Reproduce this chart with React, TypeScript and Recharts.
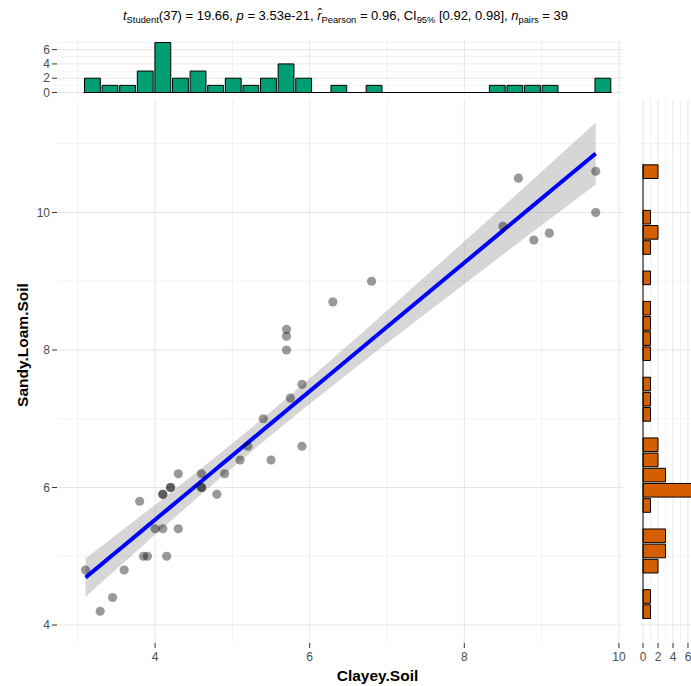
import React from 'react';
import { ComposedChart, Scatter, Line, Area, Bar, XAxis, YAxis, CartesianGrid, ReferenceLine } from 'recharts';

// ---- data ----
const clayeySoil = [3.1, 3.29, 3.45, 3.6, 3.8, 3.85, 3.9, 4.0, 4.1, 4.1, 4.1, 4.15, 4.2, 4.2, 4.3, 4.3, 4.6, 4.6, 4.6, 4.8, 4.9, 5.1, 5.2, 5.4, 5.5, 5.7, 5.7, 5.7, 5.75, 5.9, 5.9, 6.3, 6.8, 8.5, 8.7, 8.9, 9.1, 9.7, 9.7];
const sandyLoamSoil = [4.8, 4.2, 4.4, 4.8, 5.8, 5.0, 5.0, 5.4, 5.9, 5.9, 5.4, 5.0, 6.0, 6.0, 6.2, 5.4, 6.2, 6.0, 6.0, 5.9, 6.2, 6.4, 6.6, 7.0, 6.4, 8.3, 8.2, 8.0, 7.3, 7.5, 6.6, 8.7, 9.0, 9.8, 10.5, 9.6, 9.7, 10.6, 10.0];

// marginal histogram of Clayey.Soil (30 bins)
const xBinStart = 3.074;
const xBinWidth = 0.2277;
const xCounts = [2, 1, 1, 3, 7, 2, 3, 1, 2, 1, 2, 4, 2, 0, 1, 0, 1, 0, 0, 0, 0, 0, 0, 1, 1, 1, 1, 0, 0, 2];

// marginal histogram of Sandy.Loam.Soil (30 bins, bottom to top)
const yBinStart = 4.087;
const yBinWidth = 0.2207;
const yCounts = [1, 1, 0, 2, 3, 3, 0, 1, 7, 3, 2, 2, 0, 1, 1, 1, 0, 1, 1, 1, 1, 0, 1, 0, 1, 2, 1, 0, 0, 2];

const mainXTicks = [4, 6, 8, 10];
const mainYTicks = [4, 6, 8, 10];
const minorX = [3, 5, 7, 9];
const minorY = [5, 7, 9, 11];
const countTicks = [0, 2, 4, 6];
const minorCount = [1, 3, 5, 7];

// ---- derived tables ----
const points = clayeySoil.map((x, i) => ({ x, y: sandyLoamSoil[i] }));

// linear fit (geom_smooth, method = "lm") with 95% CI
const n = points.length;
const mx = clayeySoil.reduce((a, b) => a + b, 0) / n;
const my = sandyLoamSoil.reduce((a, b) => a + b, 0) / n;
let sxx = 0, sxy = 0;
points.forEach(p => { sxx += (p.x - mx) ** 2; sxy += (p.x - mx) * (p.y - my); });
const slope = sxy / sxx;
const intercept = my - slope * mx;
let sse = 0;
points.forEach(p => { sse += (p.y - (intercept + slope * p.x)) ** 2; });
const sRes = Math.sqrt(sse / (n - 2));
const tCrit = 2.026;
const fitXs = Array.from(new Set(clayeySoil)).sort((a, b) => a - b);
const fitData = fitXs.map(x => {
  const f = intercept + slope * x;
  const se = sRes * Math.sqrt(1 / n + (x - mx) ** 2 / sxx);
  return { x, fit: f, band: [f - tCrit * se, f + tCrit * se] };
});

const xHist = xCounts.map((c, i) => ({ x: xBinStart + (i + 0.5) * xBinWidth, count: c }));
const yHist = yCounts.map((c, i) => ({ y: yBinStart + (i + 0.5) * yBinWidth, count: c }));

// ---- layout ----
const W = 691;
const H = 686;
const plotLeft = 57;
const plotRight = 622;
const plotTop = 99;
const plotBottom = 643;
const topHistTop = 40;
const topHistBottom = 95;
const xDomain: [number, number] = [2.731, 10.04];
const yDomain: [number, number] = [3.738, 11.651];
const countDomain: [number, number] = [-0.35, 7.35];

const pxPerX = (plotRight - plotLeft) / (xDomain[1] - xDomain[0]);
const pxPerY = (plotBottom - plotTop) / (yDomain[1] - yDomain[0]);

const tickStyle = { fill: '#4d4d4d', fontSize: 12 };
const tickLine = { stroke: '#333333' };
const majorGrid = '#e6e6e6';
const minorGrid = '#f2f2f2';

const Sub = ({ children }: { children: React.ReactNode }) => (
  <span style={{ fontSize: '0.72em', position: 'relative', top: '0.3em' }}>{children}</span>
);

const Dot = (props: any) => (
  <circle cx={props.cx} cy={props.cy} r={4.6} fill="#000000" fillOpacity={0.4} />
);

export default function App() {
  return (
    <div style={{ position: 'absolute', left: 0, top: 0, width: W, height: H, overflow: 'hidden', background: '#ffffff', fontFamily: '"Liberation Sans", Arial, Helvetica, sans-serif' }}>
      {/* subtitle with statistics */}
      <div style={{ position: 'absolute', left: 0, top: 6, width: W, textAlign: 'center', fontSize: 13, lineHeight: '20px', color: '#000', whiteSpace: 'nowrap' }}>
        <i>t</i><Sub>Student</Sub>(37) = 19.66, <i>p</i> = 3.53e-21, <i>r̂</i><Sub>Pearson</Sub> = 0.96, CI<Sub>95%</Sub> [0.92, 0.98], <i>n</i><Sub>pairs</Sub> = 39
      </div>

      {/* top marginal histogram */}
      <div style={{ position: 'absolute', left: 0, top: 0 }}>
        <ComposedChart width={W} height={topHistBottom + 15} data={xHist} margin={{ top: topHistTop, right: W - plotRight, bottom: 15, left: 0 }}>
          <CartesianGrid stroke={minorGrid} horizontalValues={minorCount} verticalValues={minorX} />
          <CartesianGrid stroke={majorGrid} horizontalValues={countTicks} verticalValues={mainXTicks} />
          <XAxis type="number" dataKey="x" domain={xDomain} ticks={mainXTicks} allowDataOverflow hide />
          <YAxis type="number" domain={countDomain} ticks={countTicks} interval={0} width={plotLeft} tick={tickStyle} tickLine={tickLine} axisLine={false} tickSize={5} tickMargin={2} allowDataOverflow />
          <Bar dataKey="count" fill="#009E73" stroke="#000000" strokeWidth={1} barSize={xBinWidth * pxPerX} isAnimationActive={false} />
          <ReferenceLine segment={[{ x: xBinStart, y: 0 }, { x: xBinStart + xCounts.length * xBinWidth, y: 0 }]} stroke="#000000" strokeWidth={1} ifOverflow="visible" />
        </ComposedChart>
      </div>

      {/* main scatter */}
      <div style={{ position: 'absolute', left: 0, top: 0 }}>
        <ComposedChart width={W} height={H} margin={{ top: plotTop, right: W - plotRight, bottom: 0, left: 0 }}>
          <CartesianGrid stroke={minorGrid} horizontalValues={minorY} verticalValues={minorX} />
          <CartesianGrid stroke={majorGrid} horizontalValues={mainYTicks} verticalValues={mainXTicks} />
          <XAxis type="number" dataKey="x" domain={xDomain} ticks={mainXTicks} interval={0} height={H - plotBottom} tick={tickStyle} tickLine={tickLine} axisLine={false} tickSize={5} tickMargin={4} allowDataOverflow />
          <YAxis type="number" dataKey="y" domain={yDomain} ticks={mainYTicks} interval={0} width={plotLeft} tick={tickStyle} tickLine={tickLine} axisLine={false} tickSize={5} tickMargin={2} allowDataOverflow />
          <Scatter data={points} dataKey="y" shape={Dot} isAnimationActive={false} />
          <Area data={fitData} dataKey="band" type="linear" stroke="none" fill="#999999" fillOpacity={0.4} isAnimationActive={false} />
          <Line data={fitData} dataKey="fit" type="linear" stroke="#0000FF" strokeWidth={4} dot={false} activeDot={false} isAnimationActive={false} />
        </ComposedChart>
      </div>

      {/* right marginal histogram */}
      <div style={{ position: 'absolute', left: 0, top: 0 }}>
        <ComposedChart layout="vertical" width={720} height={H} data={yHist} margin={{ top: plotTop, right: 720 - 698.1, bottom: 0, left: 640.4 }}>
          <CartesianGrid stroke={minorGrid} horizontalValues={minorY} verticalValues={minorCount} />
          <CartesianGrid stroke={majorGrid} horizontalValues={mainYTicks} verticalValues={countTicks} />
          <XAxis type="number" domain={countDomain} ticks={countTicks} interval={0} height={H - plotBottom} tick={tickStyle} tickLine={tickLine} axisLine={false} tickSize={5} tickMargin={4} allowDataOverflow />
          <YAxis type="number" dataKey="y" domain={yDomain} ticks={mainYTicks} width={0} hide reversed allowDataOverflow />
          <Bar dataKey="count" fill="#D55E00" stroke="#000000" strokeWidth={1} barSize={yBinWidth * pxPerY} isAnimationActive={false} />
          <ReferenceLine segment={[{ x: 0, y: yBinStart }, { x: 0, y: yBinStart + yCounts.length * yBinWidth }]} stroke="#000000" strokeWidth={1} ifOverflow="visible" />
        </ComposedChart>
      </div>

      {/* axis titles */}
      <div style={{ position: 'absolute', left: 277.5, top: 667, width: 200, textAlign: 'center', fontSize: 15.5, fontWeight: 'bold', lineHeight: '18px', color: '#000' }}>Clayey.Soil</div>
      <div style={{ position: 'absolute', left: 23, top: 345, transform: 'translate(-50%, -50%) rotate(-90deg)', fontSize: 15.5, fontWeight: 'bold', lineHeight: '18px', color: '#000', whiteSpace: 'nowrap' }}>Sandy.Loam.Soil</div>
    </div>
  );
}
